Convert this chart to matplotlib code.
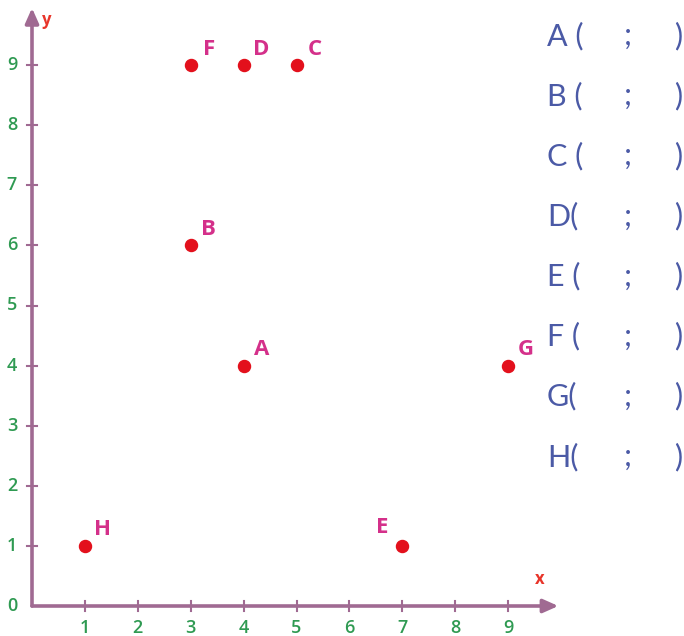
import matplotlib
matplotlib.use("Agg")
import matplotlib.pyplot as plt

names = ["A", "B", "C", "D", "E", "F", "G", "H"]
xs = [4, 3, 5, 4, 7, 3, 9, 1]
ys = [4, 6, 9, 9, 1, 9, 4, 1]
x_ticks = [1, 2, 3, 4, 5, 6, 7, 8, 9]
y_ticks = [1, 2, 3, 4, 5, 6, 7, 8, 9]
list_names = ["A (", "B (", "C (", "D(", "E (", "F (", "G(", "H("]

AXC = "#a06a92"
TICKC = "#2f9a52"
PTC = "#e3101c"
LBLC = "#d4308a"
BLUE = "#4b5aa6"
REDL = "#e8352a"
FONT = ["Lato", "DejaVu Sans"]
BFONT = ["Open Sans", "DejaVu Sans"]

fig = plt.figure(figsize=(6.84, 6.36), dpi=100)
ax = fig.add_axes([0, 0, 1, 1])
ux, uy = 52.9, 60.1
ox, oy = 32, 606
ax.set_xlim(-ox / ux, (684 - ox) / ux)
ax.set_ylim(-(636 - oy) / uy, oy / uy)
ax.axis("off")

# axes
ax.annotate("", xy=(9.95, 0), xytext=(0, 0),
            arrowprops=dict(arrowstyle="-|>,head_length=0.9,head_width=0.4", color=AXC, lw=2.6, shrinkA=0, shrinkB=0))
ax.annotate("", xy=(0, 9.95), xytext=(0, 0),
            arrowprops=dict(arrowstyle="-|>,head_length=0.9,head_width=0.4", color=AXC, lw=2.6, shrinkA=0, shrinkB=0))
tx = 5 / uy
for t in x_ticks:
    ax.plot([t, t], [-tx, tx], color=AXC, lw=1.5)
    ax.text(t, -0.37, str(t), color=TICKC, fontsize=13, ha="center", va="center",
            family=BFONT, fontweight="semibold")
txx = 5 / ux
for t in y_ticks:
    ax.plot([-txx, txx], [t, t], color=AXC, lw=1.5)
    ax.text(-0.38, t, str(t), color=TICKC, fontsize=13, ha="center", va="center",
            family=BFONT, fontweight="semibold")
ax.text(-0.38, 0, "0", color=TICKC, fontsize=13, ha="center", va="center",
        family=BFONT, fontweight="semibold")
ax.text(9.6, 0.45, "x", color=REDL, fontsize=12, ha="center", va="center",
        family=BFONT, fontweight="bold")
ax.text(0.27, 9.75, "y", color=REDL, fontsize=12, ha="center", va="center",
        family=BFONT, fontweight="bold")

# points
ax.scatter(xs, ys, s=75, color=PTC, zorder=5)
for n, x, y in zip(names, xs, ys):
    if n == "E":
        dx, dy = -20, 18
    else:
        dx, dy = 18, 16
    ax.annotate(n, (x, y), xytext=(dx, dy), textcoords="offset pixels",
                color=LBLC, fontsize=16, fontweight="bold", family=BFONT,
                ha="center", va="center")

# right list
for i, n in enumerate(list_names):
    py = 36 + i * 60.1
    yv = (oy - py) / uy
    for txt, px in [(n, 547), (";", 628), (")", 678)]:
        ax.text((px - ox) / ux, yv, txt, color=BLUE, fontsize=22,
                family=FONT, ha="left" if txt == n else "center", va="center")

fig.savefig("out.png", dpi=100)
